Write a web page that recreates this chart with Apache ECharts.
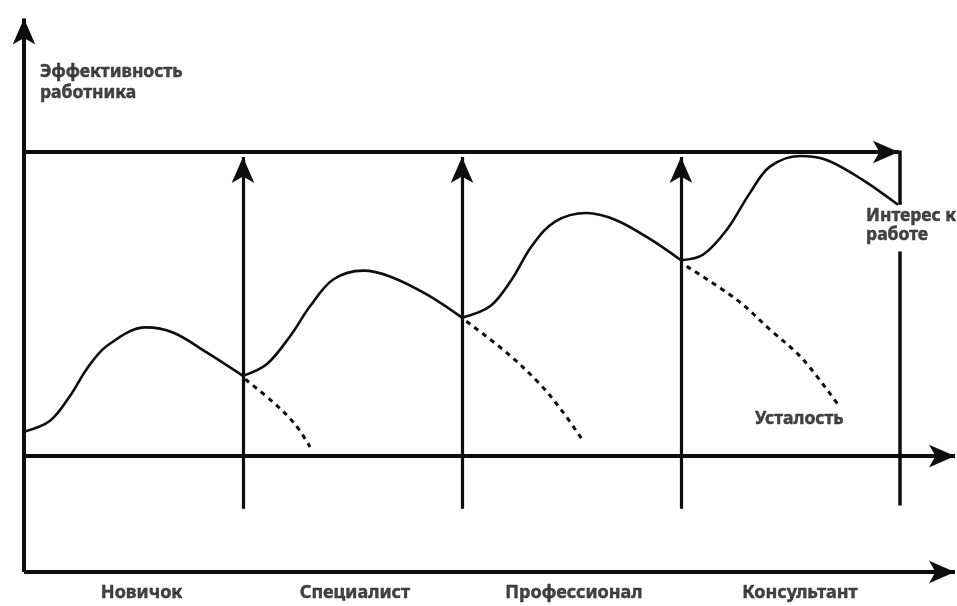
<!DOCTYPE html>
<html>
<head>
<meta charset="utf-8">
<script src="https://cdn.jsdelivr.net/npm/echarts@6/dist/echarts.min.js"></script>
<style>
html,body{margin:0;padding:0;background:#fff;}
#chart{width:957px;height:606px;}
</style>
</head>
<body>
<div id="chart"></div>
<script>
// ---- Data (stage units on x, effectiveness units on y) ----
var stages = ['Новичок', 'Специалист', 'Профессионал', 'Консультант'];
var stageBounds = [1, 2, 3];

// Effectiveness curve, one array per stage
var curveNovice = [[0, 0.83], [0.119, 1.19], [0.210, 2.00], [0.286, 2.88], [0.378, 3.64], [0.556, 4.25], [0.680, 4.08], [0.834, 3.43], [1.0, 2.66]];
var curveSpecialist = [[1.0, 2.66], [1.108, 3.04], [1.215, 3.96], [1.306, 4.94], [1.412, 5.82], [1.549, 6.11], [1.671, 5.92], [1.839, 5.33], [2.0, 4.57]];
var curveProfessional = [[2.0, 4.57], [2.128, 4.94], [2.227, 5.82], [2.318, 6.91], [2.425, 7.72], [2.569, 8.00], [2.699, 7.78], [2.849, 7.19], [3.0, 6.45]];
var curveConsultant = [[3.0, 6.45], [3.100, 6.63], [3.209, 7.45], [3.315, 8.66], [3.406, 9.52], [3.543, 9.87], [3.665, 9.74], [3.831, 9.08], [3.991, 8.27]];

// Fatigue (dashed) curves
var fatigue1 = [[1.01, 2.55], [1.137, 1.80], [1.237, 1.08], [1.306, 0.33]];
var fatigue2 = [[2.02, 4.45], [2.204, 3.42], [2.356, 2.39], [2.461, 1.47], [2.547, 0.59]];
var fatigue3 = [[3.026, 6.25], [3.254, 5.16], [3.406, 4.18], [3.557, 3.20], [3.726, 1.63]];

// ---- Layout constants ----
var interestLevel = 10;      // top "interest" line
var bottomAxisY = -3.77;

var INK = '#0d0d0d';
var TEXT = '#151515';
var FONT = '"Noto Sans", "Open Sans", sans-serif';

var arrowLines = [
  {coords: [[0, bottomAxisY], [0, 14.38]]},
  {coords: [[0, interestLevel], [3.995, interestLevel]]},
  {coords: [[0, 0.03], [4.251, 0.03]]},
  {coords: [[0, bottomAxisY], [4.251, bottomAxisY]]}
];
var stageArrows = stageBounds.map(function (b) {
  return {coords: [[b, -1.70], [b, 9.84]]};
});
var plainLines = [
  {coords: [[4, interestLevel + 0.05], [4, 8.27]]},
  {coords: [[4, 6.74], [4, -1.59]]}
];

var stageLabelX = [0.537, 1.511, 2.511, 3.543];
var stageLabelY = -4.47;

function curveSeries(d) {
  return {type: 'line', data: d, smooth: 0.35, symbol: 'none', clip: false,
    lineStyle: {color: INK, width: 2.6}, z: 3, silent: true};
}
function dashSeries(d) {
  return {type: 'line', data: d, smooth: 0.35, symbol: 'none', clip: false,
    lineStyle: {color: INK, width: 3, type: [5, 5]}, z: 3, silent: true};
}
function textPoint(x, y, txt, pos, opts) {
  var lbl = {show: true, formatter: txt, position: pos, distance: 0,
    color: TEXT, fontFamily: FONT, fontWeight: 'bold', fontSize: 17.5,
    textBorderColor: TEXT, textBorderWidth: 0.5};
  for (var k in opts) lbl[k] = opts[k];
  return {value: [x, y], label: lbl};
}

var textData = stages.map(function (s, i) {
  return textPoint(stageLabelX[i], stageLabelY, s, 'inside', {fontSize: 18});
});
textData.push(textPoint(0.073, 12.27, 'Эффективность\nработника', 'right', {lineHeight: 21}));
textData.push(textPoint(3.845, 7.58, 'Интерес к\nработе', 'right', {lineHeight: 19}));
textData.push(textPoint(3.338, 1.24, 'Усталость', 'right', {}));

var chart = echarts.init(document.getElementById('chart'));
chart.setOption({
  backgroundColor: '#fff',
  animation: false,
  grid: {left: 24, right: 57, top: 152, bottom: 149},
  xAxis: {type: 'value', min: 0, max: 4, show: false},
  yAxis: {type: 'value', min: 0, max: 10, show: false},
  series: [
    {type: 'lines', coordinateSystem: 'cartesian2d', clip: false, silent: true,
      symbol: ['none', 'arrow'], symbolSize: [1, [17, 26]],
      lineStyle: {color: INK, width: 4, opacity: 1}, data: arrowLines, z: 2},
    {type: 'lines', coordinateSystem: 'cartesian2d', clip: false, silent: true,
      symbol: ['none', 'arrow'], symbolSize: [1, [17, 26]],
      lineStyle: {color: INK, width: 3.2, opacity: 1}, data: stageArrows, z: 2},
    {type: 'lines', coordinateSystem: 'cartesian2d', clip: false, silent: true,
      symbol: ['none', 'none'],
      lineStyle: {color: INK, width: 3.5, opacity: 1}, data: plainLines, z: 2},
    curveSeries(curveNovice),
    curveSeries(curveSpecialist),
    curveSeries(curveProfessional),
    curveSeries(curveConsultant),
    dashSeries(fatigue1),
    dashSeries(fatigue2),
    dashSeries(fatigue3),
    {type: 'scatter', data: textData, symbolSize: 0, clip: false, silent: true, z: 5}
  ]
});
</script>
</body>
</html>
